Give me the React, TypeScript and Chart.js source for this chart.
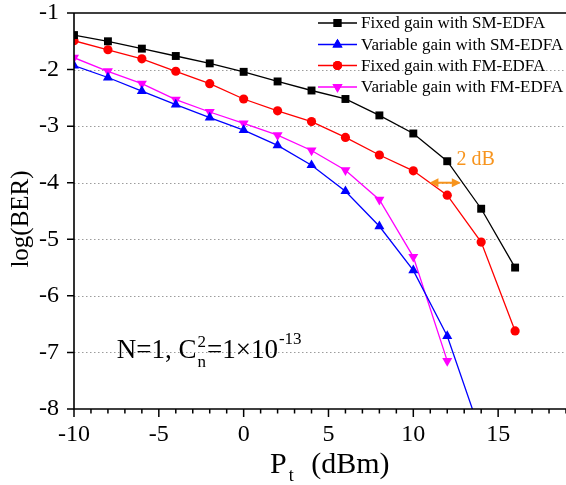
import React, { useEffect, useRef } from 'react';
import { Chart, registerables } from 'chart.js';
import { drawPoint } from 'chart.js/helpers';

Chart.register(...registerables);

// ---------------- data ----------------
const powerDbm = [-10, -8, -6, -4, -2, 0, 2, 4, 6, 8, 10, 12, 14, 16];
const fixedGainSM = [-1.39, -1.5, -1.63, -1.76, -1.89, -2.04, -2.21, -2.37, -2.52, -2.81, -3.13, -3.62, -4.46, -5.5];
const variableGainSM = [-1.93, -2.14, -2.38, -2.62, -2.85, -3.07, -3.34, -3.69, -4.15, -4.77, -5.55, -6.71, -8.45];
const fixedGainFM = [-1.49, -1.65, -1.81, -2.03, -2.25, -2.52, -2.73, -2.92, -3.2, -3.51, -3.79, -4.22, -5.05, -6.62];
const variableGainFM = [-1.79, -2.03, -2.25, -2.53, -2.75, -2.95, -3.16, -3.43, -3.78, -4.3, -5.31, -7.15];

const seriesLabels = [
  'Fixed gain with SM-EDFA',
  'Variable gain with SM-EDFA',
  'Fixed gain with FM-EDFA',
  'Variable gain with FM-EDFA',
];
const seriesValues = [fixedGainSM, variableGainSM, fixedGainFM, variableGainFM];
const seriesColors = ['#000000', '#0000ff', '#ff0000', '#ff00ff'];
const seriesShapes = ['rect', 'triangle', 'circle', 'triangle'];
const seriesRotation = [0, 0, 0, 180];
const seriesRadius = [5.6, 5.8, 4.6, 5.8];

const xTickValues = [-10, -5, 0, 5, 10, 15];
const xMinorStep = 1;
const yTickValues = [-1, -2, -3, -4, -5, -6, -7, -8];
const X_MIN = -10;
const X_MAX = 19;
const Y_MIN = -8;
const Y_MAX = -1;

// annotation anchors (data units)
const gapArrowFrom = 10.95;
const gapArrowTo = 12.8;
const gapArrowLevel = -4;
const gapLabel = '2 dB';
const gapLabelAt = [12.55, -3.69];
const noteAt = [-7.48, -7.09];

const SERIF = '"Liberation Serif", "Times New Roman", serif';
const ORANGE = '#f7941d';

function font(size: number) {
  return `${size}px ${SERIF}`;
}

const decorPlugin = {
  id: 'decor',
  beforeDatasetsDraw(chart: any) {
    const { ctx, chartArea: ca, scales } = chart;
    const y = scales.y;
    ctx.save();
    ctx.strokeStyle = '#9c9c9c';
    ctx.lineWidth = 1;
    ctx.setLineDash([1.5, 2.5]);
    for (const v of yTickValues) {
      if (v === Y_MIN || v === Y_MAX) continue;
      const py = Math.round(y.getPixelForValue(v)) + 0.5;
      ctx.beginPath();
      ctx.moveTo(ca.left, py);
      ctx.lineTo(ca.right, py);
      ctx.stroke();
    }
    ctx.restore();
  },
  afterDraw(chart: any) {
    const { ctx, chartArea: ca, scales } = chart;
    const x = scales.x;
    const y = scales.y;
    ctx.save();
    // frame
    ctx.strokeStyle = '#000';
    ctx.lineWidth = 1.6;
    ctx.beginPath();
    ctx.moveTo(ca.left, ca.top);
    ctx.lineTo(ca.right, ca.top);
    ctx.moveTo(ca.left, ca.top);
    ctx.lineTo(ca.left, ca.bottom);
    ctx.lineTo(ca.right, ca.bottom);
    ctx.stroke();
    // y ticks
    ctx.lineWidth = 1.5;
    ctx.beginPath();
    for (const v of yTickValues) {
      const py = y.getPixelForValue(v);
      ctx.moveTo(ca.left - 7, py);
      ctx.lineTo(ca.left, py);
    }
    // x ticks
    for (let v = X_MIN; v <= X_MAX; v += xMinorStep) {
      const px = x.getPixelForValue(v);
      const major = xTickValues.includes(v);
      ctx.moveTo(px, ca.bottom);
      ctx.lineTo(px, ca.bottom + (major ? 8 : 4.5));
    }
    ctx.stroke();

    // legend
    const legendY = [23, 44.5, 65.5, 87];
    seriesLabels.forEach((label, i) => {
      const ly = legendY[i];
      ctx.strokeStyle = seriesColors[i];
      ctx.lineWidth = 1.4;
      ctx.beginPath();
      ctx.moveTo(318, ly);
      ctx.lineTo(357, ly);
      ctx.stroke();
      ctx.fillStyle = seriesColors[i];
      drawPoint(ctx, {
        pointStyle: seriesShapes[i],
        rotation: seriesRotation[i],
        radius: seriesRadius[i],
        borderWidth: 0,
      } as any, 337.5, ly);
      ctx.fill();
      ctx.fillStyle = '#000';
      ctx.font = font(17);
      ctx.textAlign = 'left';
      ctx.textBaseline = 'middle';
      ctx.fillText(label, 361, ly + 1);
    });

    // y title
    ctx.save();
    ctx.translate(21, 219);
    ctx.rotate(-Math.PI / 2);
    ctx.fillStyle = '#000';
    ctx.font = font(25);
    ctx.textAlign = 'center';
    ctx.textBaseline = 'middle';
    ctx.fillText('log(BER)', 0, 0);
    ctx.restore();

    // x title: P_t (dBm)
    ctx.fillStyle = '#000';
    ctx.textAlign = 'left';
    ctx.textBaseline = 'alphabetic';
    let tx = 270;
    ctx.font = font(30);
    ctx.fillText('P', tx, 473);
    tx += ctx.measureText('P').width + 2;
    ctx.font = font(18);
    ctx.fillText('t', tx, 481);
    tx += ctx.measureText('t').width;
    ctx.font = font(30);
    ctx.fillText(' (dBm)', tx + 10, 473);

    // gap arrow
    const ax1 = x.getPixelForValue(gapArrowFrom);
    const ax2 = x.getPixelForValue(gapArrowTo);
    const ay = y.getPixelForValue(gapArrowLevel);
    ctx.strokeStyle = ORANGE;
    ctx.fillStyle = ORANGE;
    ctx.lineWidth = 2;
    ctx.beginPath();
    ctx.moveTo(ax1 + 5, ay);
    ctx.lineTo(ax2 - 5, ay);
    ctx.stroke();
    ctx.beginPath();
    ctx.moveTo(ax1, ay);
    ctx.lineTo(ax1 + 9, ay - 4.5);
    ctx.lineTo(ax1 + 9, ay + 4.5);
    ctx.closePath();
    ctx.moveTo(ax2, ay);
    ctx.lineTo(ax2 - 9, ay - 4.5);
    ctx.lineTo(ax2 - 9, ay + 4.5);
    ctx.closePath();
    ctx.fill();
    ctx.font = font(20);
    ctx.fillText(gapLabel, x.getPixelForValue(gapLabelAt[0]), y.getPixelForValue(gapLabelAt[1]));

    // note: N=1, C_n^2 = 1x10^-13
    ctx.fillStyle = '#000';
    let nx = x.getPixelForValue(noteAt[0]);
    const nb = y.getPixelForValue(noteAt[1]);
    ctx.font = font(27);
    ctx.fillText('N=1, C', nx, nb);
    nx += ctx.measureText('N=1, C').width + 1;
    ctx.font = font(17);
    ctx.fillText('2', nx, nb - 11);
    ctx.fillText('n', nx, nb + 9);
    nx += Math.max(ctx.measureText('2').width, ctx.measureText('n').width) + 1;
    ctx.font = font(27);
    const mid = '=1\u00d710';
    ctx.fillText(mid, nx, nb);
    nx += ctx.measureText(mid).width + 1;
    ctx.font = font(17);
    ctx.fillText('-13', nx, nb - 14);

    ctx.restore();
  },
};

function zeroPad(s: any) {
  s.paddingTop = 0;
  s.paddingBottom = 0;
  s.paddingLeft = 0;
  s.paddingRight = 0;
}

export default function App() {
  const ref = useRef<HTMLCanvasElement | null>(null);
  useEffect(() => {
    if (!ref.current) return;
    const datasets = seriesLabels.map((label, i) => ({
      label,
      data: seriesValues[i].map((v, k) => ({ x: powerDbm[k], y: v })),
      borderColor: seriesColors[i],
      backgroundColor: seriesColors[i],
      borderWidth: 1.3,
      pointStyle: seriesShapes[i],
      pointRotation: seriesRotation[i],
      pointRadius: seriesRadius[i],
      pointBorderWidth: 0,
      pointBackgroundColor: seriesColors[i],
      tension: 0,
      clip: 0,
    }));
    const chart = new Chart(ref.current, {
      type: 'line',
      data: { datasets } as any,
      options: {
        animation: false,
        responsive: false,
        devicePixelRatio: 1,
        layout: { autoPadding: false, padding: { top: 13, right: 0, left: 0, bottom: 0 } },
        plugins: { legend: { display: false }, tooltip: { enabled: false } },
        scales: {
          x: {
            type: 'linear',
            min: X_MIN,
            max: X_MAX,
            grid: { display: false, drawTicks: false },
            border: { display: false },
            afterBuildTicks: (s: any) => {
              s.ticks = xTickValues.map((v) => ({ value: v }));
            },
            afterFit: (s: any) => {
              s.height = 76;
              zeroPad(s);
            },
            ticks: {
              autoSkip: false,
              maxRotation: 0,
              padding: 11,
              color: '#000',
              font: { family: SERIF, size: 24 },
            },
          },
          y: {
            type: 'linear',
            min: Y_MIN,
            max: Y_MAX,
            grid: { display: false, drawTicks: false },
            border: { display: false },
            afterBuildTicks: (s: any) => {
              s.ticks = yTickValues.map((v) => ({ value: v }));
            },
            afterFit: (s: any) => {
              s.width = 74;
              zeroPad(s);
            },
            ticks: {
              autoSkip: false,
              padding: 15,
              color: '#000',
              font: { family: SERIF, size: 24 },
            },
          },
        },
      } as any,
      plugins: [decorPlugin],
    });
    return () => chart.destroy();
  }, []);
  return (
    <div style={{ position: 'fixed', left: 0, top: 0, width: 566, height: 485, background: '#fff' }}>
      <canvas ref={ref} width={566} height={485} style={{ width: 566, height: 485, display: 'block' }} />
    </div>
  );
}
